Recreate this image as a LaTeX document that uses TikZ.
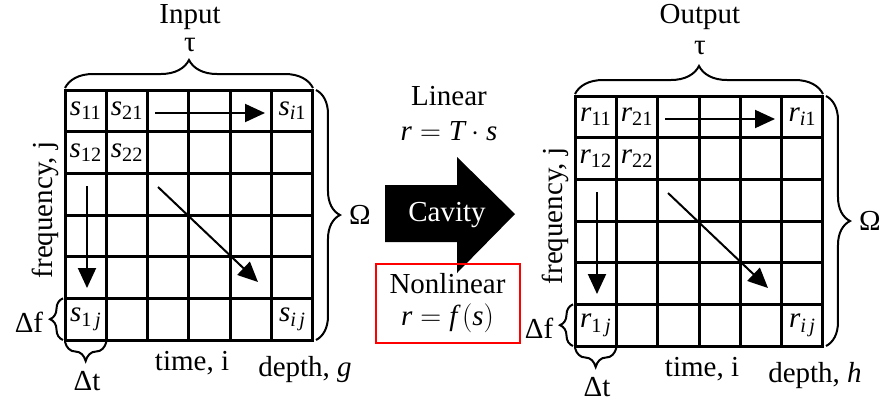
\RequirePackage{fix-cm}
\documentclass[tikz,border=0pt]{standalone}
\usepackage{amsmath}
\usepackage{fontspec}
\setmainfont{Liberation Serif}
\usetikzlibrary{arrows.meta,decorations.pathreplacing,calc}
\newcommand\mv[1]{\textit{#1}}
\newcommand\celllab[2]{$\mv{#1}_{#2}$}
\tikzset{
  cell/.style={draw, line width=3pt, minimum width=41.33pt, minimum height=41.67pt, inner sep=0pt, outer sep=0pt},
  lbl/.style={inner sep=0pt, font=\fontsize{29}{32}\selectfont},
  bracestyle/.style={draw, line width=2pt, decorate, decoration={brace, amplitude=#1}},
  flowarrow/.style={line width=2pt, -{Triangle[length=20pt,width=18pt]}},
}
\begin{document}
\begin{tikzpicture}[x=1pt,y=-1pt]
\useasboundingbox (0,0) rectangle (888,402);
\foreach \ox/\oy/\v/\p/\ttl/\dep in {0/0/s/L/Input/g, 510/6/r/R/Output/h}{
  \begin{scope}[shift={(\ox,\oy)}]
    \foreach \c in {1,...,6}{
      \foreach \r in {1,...,6}{
        \node[cell] (\p c\c r\r) at ({65+(\c-0.5)*41.33},{90+(\r-0.5)*41.67}) {};
      }
    }
    \node[lbl] (\p s11) at (\p c1r1) {\celllab{\v}{\text{11}}};
    \node[lbl] (\p s21) at (\p c2r1) {\celllab{\v}{\text{21}}};
    \node[lbl] (\p si1) at (\p c6r1) {\celllab{\v}{\textit{i}\text{1}}};
    \node[lbl] (\p s12) at (\p c1r2) {\celllab{\v}{\text{12}}};
    \node[lbl] (\p s22) at (\p c2r2) {\celllab{\v}{\text{22}}};
    \node[lbl] (\p s1j) at (\p c1r6) {\celllab{\v}{\text{1}\,\textit{j}}};
    \node[lbl] (\p sij) at (\p c6r6) {\celllab{\v}{\textit{i}\,\textit{j}}};
    % internal arrows
    \coordinate (\p ha) at (155,113);
    \coordinate (\p hb) at (265,113);
    \coordinate (\p va) at (87,186);
    \coordinate (\p vb) at (87,288);
    \coordinate (\p da) at (158,187);
    \coordinate (\p db) at (258,282);
    \draw[flowarrow] (\p ha) -- (\p hb);
    \draw[flowarrow] (\p va) -- (\p vb);
    \draw[flowarrow] (\p da) -- (\p db);
    % braces
    \draw[bracestyle=28pt] ([yshift=2pt]\p c1r1.north west) -- ([yshift=2pt]\p c6r1.north east);
    \draw[bracestyle=24pt] ([xshift=3pt]\p c6r1.north east) -- ([xshift=3pt]\p c6r6.south east);
    \draw[bracestyle=13pt] ([xshift=-2pt]\p c1r6.south west) -- ([xshift=-2pt]\p c1r6.north west);
    \draw[bracestyle=19pt] ([yshift=-2pt]\p c1r6.south east) -- ([yshift=-2pt]\p c1r6.south west);
    % texts
    \node[lbl] (\p title) at (190,{17-\oy}) {\ttl};
    \node[lbl] (\p tau) at (190,{45-\oy/2}) {τ};
    \node[lbl] (\p omega) at (360,215) {Ω};
    \node[lbl] (\p df) at (29,322) {Δf};
    \node[lbl] (\p dt) at (87,381) {Δt};
    \node[lbl] (\p time) at (192,363) {time, i};
    \node[lbl] (\p depth) at (305,370) {depth, \mv{\dep}};
    \node[lbl, rotate=90] (\p freq) at (45,210) {frequency, j};
  \end{scope}
}
% cavity arrow
\fill[black] (385,185) -- (457,185) -- (457,157) -- (515,214) -- (457,273) -- (457,242) -- (385,242) -- cycle;
\node[lbl, text=white] (cavity) at (447,215) {Cavity};
\node[lbl, align=center, font=\fontsize{29}{35}\selectfont] (linear) at (449,114) {Linear\\$\mv{r} = \mv{T}\cdot\mv{s}$};
\node[lbl, align=center, draw=red, line width=2pt, minimum width=144pt, minimum height=79pt] (nonlinear) at (447.5,303.5) {Nonlinear\\$\mv{r} = \mv{f}\,(\mv{s})$};
\end{tikzpicture}
\end{document}
